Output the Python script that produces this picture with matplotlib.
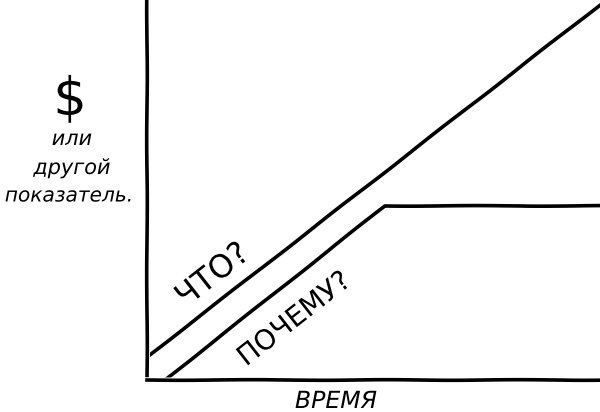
import matplotlib.pyplot as plt

# what? line (straight growth)
what_x = [0, 100]
what_y = [6, 98.7]
# why? line (growth then plateau)
why_x = [4, 52.5, 100]
why_y = [0, 45.8, 45.8]

plt.xkcd(scale=0.3, length=150, randomness=2)
plt.rcParams['font.family'] = ['DejaVu Sans']

fig = plt.figure(figsize=(6, 4.12), dpi=100)
ax = fig.add_axes([0.245, 0.078, 0.755, 0.922])
ax.plot(what_x, what_y, color='black', lw=2.6)
ax.plot(why_x, why_y, color='black', lw=2.6)
ax.set_xlim(0, 100)
ax.set_ylim(0, 100)
ax.spines['top'].set_visible(False)
ax.spines['right'].set_visible(False)
for s in ('left', 'bottom'):
    ax.spines[s].set_linewidth(2.6)
ax.set_xticks([])
ax.set_yticks([])

ax.text(14.6, 27.4, 'ЧТО?', rotation=38, fontsize=23, ha='center', va='center')
ax.text(32.5, 16.0, 'ПОЧЕМУ?', rotation=38, fontsize=20, ha='center', va='center')

fig.text(336 / 600, 1 - 401 / 412, 'ВРЕМЯ', fontsize=17, style='italic', ha='center', va='center')
fig.text(70 / 600, 1 - 100 / 412, '$', fontsize=38, ha='center', va='center')
fig.text(72 / 600, 1 - 139 / 412, 'или', fontsize=15, style='italic', ha='center', va='center')
fig.text(72 / 600, 1 - 168 / 412, 'другой', fontsize=15, style='italic', ha='center', va='center')
fig.text(69 / 600, 1 - 196 / 412, 'показатель.', fontsize=14.5, style='italic', ha='center', va='center')

fig.savefig('out.png', dpi=100)
